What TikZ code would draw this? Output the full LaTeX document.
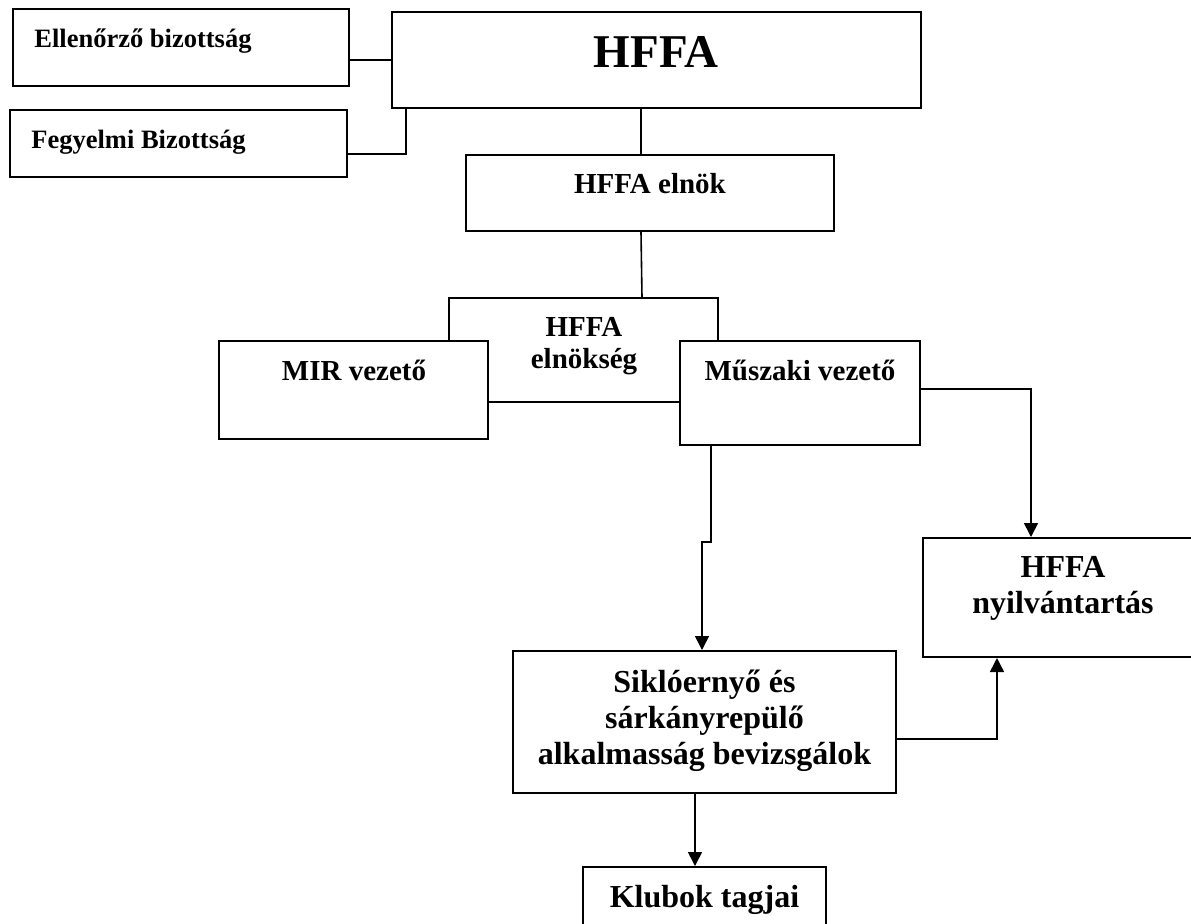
\documentclass[tikz,border=0pt]{standalone}
\usepackage{fontspec}
\setmainfont{Liberation Serif}
\usetikzlibrary{arrows.meta}
\begin{document}
\begin{tikzpicture}[x=0.5pt,y=-0.5pt,
	box/.style args={#1 by #2}{draw,line width=1pt,fill=white,inner sep=0pt,minimum width=#1*0.5pt,minimum height=#2*0.5pt},
	small/.style={font=\bfseries\fontsize{13.25}{15}\selectfont,inner sep=0pt},
	mid/.style={font=\bfseries\fontsize{14.5}{16}\selectfont,align=center,inner sep=0pt},
	large/.style={font=\bfseries\fontsize{16}{18}\selectfont,align=center,inner sep=0pt},
	link/.style={line width=0.8pt},
	arr/.style={line width=0.8pt,-{Triangle[width=7pt,length=7pt]}}]
	\useasboundingbox (0,0) rectangle (1191,923);
	% boxes
	\node[box=336 by 77] (ell) at (181,47.5) {};
	\node[box=337 by 67] (feg) at (178.5,143.5) {};
	\node[box=529 by 96] (hffa) at (656.5,60) {};
	\node[box=368 by 76] (elnok) at (650,193) {};
	\node[box=269 by 104] (elnokseg) at (583.5,350) {};
	\node[box=269 by 98] (mir) at (353.5,390) {};
	\node[box=240 by 104] (musz) at (800,393) {};
	\node[box=280 by 119] (nyilv) at (1063,597.5) {};
	\node[box=383 by 142] (siklo) at (704.5,722) {};
	\node[box=243 by 100] (klub) at (704.5,917) {};
	% texts (base = last line)
	\node[small,anchor=base west] (ell-t) at (34,47) {Ellenőrző bizottság};
	\node[small,anchor=base west] (feg-t) at (31,148) {Fegyelmi Bizottság};
	\node[font=\bfseries\fontsize{23.5}{26}\selectfont,inner sep=0pt,anchor=base] (hffa-t) at (656,67) {HFFA};
	\node[mid,anchor=base] (elnok-t) at (650,193) {HFFA elnök};
	\node[mid,anchor=base] (elnokseg-t) at (584,368) {HFFA\\elnökség};
	\node[mid,anchor=base] (mir-t) at (354,380) {MIR vezető};
	\node[mid,anchor=base] (musz-t) at (800,380) {Műszaki vezető};
	\node[large,anchor=base] (nyilv-t) at (1063,613) {HFFA\\nyilvántartás};
	\node[large,anchor=base] (siklo-t) at (704.5,764) {Siklóernyő és\\sárkányrepülő\\alkalmasság bevizsgálok};
	\node[large,anchor=base] (klub-t) at (704.5,907) {Klubok tagjai};
	% connectors
	\draw[link] (ell.east |- hffa.west) -- (hffa.west);
	\draw[link] ([yshift=-5.25pt]feg.east) -| ([xshift=7.5pt]hffa.south west);
	\draw[link] ([xshift=-7.75pt]hffa.south) -- ([xshift=-4.5pt]elnok.north);
	\draw[link] ([xshift=-4.5pt]elnok.south) -- ([xshift=29.25pt]elnokseg.north);
	\draw[arr] ([yshift=2pt]musz.east) -| ([xshift=-16pt]nyilv.north);
	\draw[arr] ([xshift=-44.5pt]musz.south) -- ++(0,96) -| ([xshift=-1.25pt]siklo.north);
	\draw[arr] ([yshift=-8.5pt]siklo.east) -| ([xshift=-33pt]nyilv.south);
	\draw[arr] ([xshift=-4.75pt]siklo.south) -- ([xshift=-4.75pt]klub.north);
\end{tikzpicture}
\end{document}
